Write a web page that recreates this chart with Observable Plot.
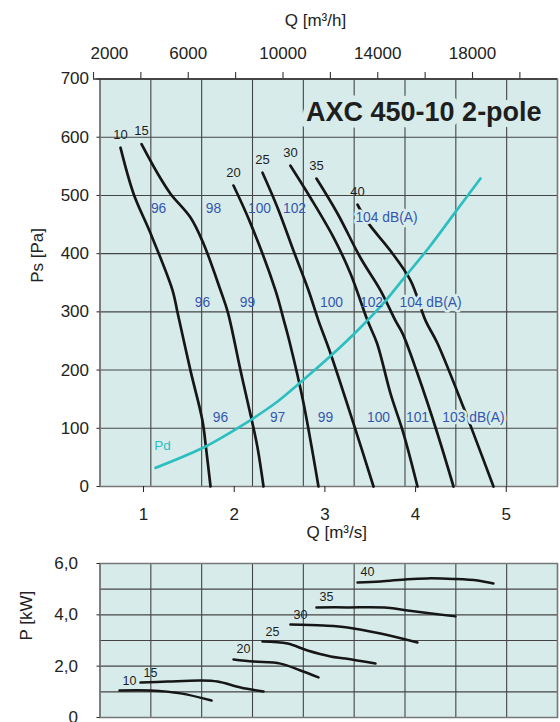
<!DOCTYPE html>
<html><head><meta charset="utf-8">
<script src="https://cdn.jsdelivr.net/npm/d3@7"></script>
<script src="https://cdn.jsdelivr.net/npm/@observablehq/plot@0.6"></script>
<style>
body{margin:0;background:#fff;font-family:"Liberation Sans",Arial,sans-serif;}
#wrap{position:relative;width:560px;height:722px;overflow:hidden;}
#wrap svg{position:absolute;left:0;}
</style></head><body><div id="wrap"></div>
<script>
// ---- data ----
const speeds = [10, 15, 20, 25, 30, 35, 40];
// static pressure curves: [Q m3/s, Ps Pa]
const fanCurve10 = [[0.746,582],[0.890,503],[1.077,435],[1.320,337],[1.375,299],[1.518,199],[1.650,113],[1.690,65],[1.739,0]];
const fanCurve15 = [[0.978,588],[1.154,538],[1.297,503],[1.518,462],[1.662,417],[1.849,337],[1.930,299],[2.070,199],[2.195,113],[2.257,67],[2.323,0]];
const fanCurve20 = [[1.992,517],[2.180,452],[2.455,337],[2.548,285],[2.614,246],[2.758,148],[2.929,0]];
const fanCurve25 = [[2.312,539],[2.478,479],[2.654,405],[2.819,337],[2.929,285],[3.050,234],[3.316,108],[3.536,0]];
const fanCurve30 = [[2.620,551],[2.841,496],[3.095,428],[3.282,366],[3.470,285],[3.575,246],[3.723,160],[3.867,91],[4.021,0]];
const fanCurve35 = [[2.907,529],[3.139,469],[3.392,393],[3.613,337],[3.778,285],[3.856,263],[4.021,194],[4.241,91],[4.418,0]];
const fanCurve40 = [[3.360,484],[3.481,452],[3.723,405],[3.944,354],[4.110,285],[4.241,246],[4.528,136],[4.605,105],[4.859,0]];
// dynamic pressure curve
const pdCurve = [[1.132,32],[1.662,67],[1.992,96],[2.180,114],[2.478,146],[2.709,176],[3.062,224],[3.360,268],[3.647,315],[3.867,357],[4.165,414],[4.418,467],[4.716,529]];
const pdLabel = [{q: 1.21, v: 70, t: "Pd"}];
// sound level labels
const dbText = ["96","98","100","102","104 dB(A)","96","99","100","102","104 dB(A)","96","97","99","100","101","103 dB(A)"];
const dbQ = [1.166,1.772,2.279,2.665,3.679,1.650,2.147,3.073,3.514,4.165,1.849,2.478,3.007,3.591,4.021,4.638];
const dbPs = [478,478,478,478,462,316,316,316,316,316,119,119,119,119,119,119];
// power curves: [Q m3/s, P kW]
const power10 = [[0.735,1.05],[1.077,1.05],[1.408,0.94],[1.750,0.66]];
const power15 = [[0.967,1.36],[1.265,1.40],[1.628,1.44],[1.816,1.40],[2.070,1.17],[2.323,1.01]];
const power20 = [[1.992,2.26],[2.213,2.18],[2.510,2.10],[2.731,1.83],[2.929,1.56]];
const power25 = [[2.312,2.96],[2.588,2.88],[2.809,2.61],[3.062,2.38],[3.227,2.30],[3.558,2.10]];
const power30 = [[2.620,3.62],[2.984,3.58],[3.249,3.51],[3.613,3.27],[4.021,2.92]];
const power35 = [[2.907,4.29],[3.249,4.29],[3.690,4.28],[3.911,4.17],[4.440,3.94]];
const power40 = [[3.360,5.26],[3.613,5.30],[3.911,5.39],[4.131,5.42],[4.418,5.40],[4.683,5.34],[4.859,5.22]];
// axes
const qTicks = [1, 2, 3, 4, 5];
const psTicks = [0, 100, 200, 300, 400, 500, 600, 700];
const pTicks = [0, 2, 4, 6];
const m3hTicks = [2000, 4000, 6000, 8000, 10000, 12000, 14000, 16000, 18000, 20000];
const m3hLabels = [2000, 6000, 10000, 14000, 18000];
const title = "AXC 450-10 2-pole";

// ---- build ----
const bg = "#d7ecea";
const ink = "#161616";
const blue = "#3556b0";
const cyan = "#2dbec0";
const gridC = "#444";
const qMin = 0.52, qMax = 5.565;
const gridQ = d3.range(10).map(i => qMin + i * (qMax - qMin) / 9);
const fanCurves = [fanCurve10, fanCurve15, fanCurve20, fanCurve25, fanCurve30, fanCurve35, fanCurve40];
const powerCurves = [power10, power15, power20, power25, power30, power35, power40];
const rows = (arrs) => arrs.flatMap((a, i) => a.map(([q, v]) => ({q, v, s: speeds[i]})));
const fanRows = rows(fanCurves);
const powRows = rows(powerCurves);
const fanStarts = fanCurves.map((a, i) => ({q: a[0][0], v: a[0][1], s: String(speeds[i])}));
const powStarts = powerCurves.map((a, i) => ({q: a[0][0], v: a[0][1], s: String(speeds[i])}));
const pdRows = pdCurve.map(([q, v]) => ({q, v}));
const dbRows = dbText.map((t, i) => ({t, q: dbQ[i], v: dbPs[i]}));
const font = "'Liberation Sans', Arial, sans-serif";
const wrap = document.getElementById("wrap");
const plain = d => String(d);

// main chart
const mainChart = Plot.plot({
  width: 560, height: 550,
  marginLeft: 99.5, marginRight: 3, marginTop: 78.5, marginBottom: 64,
  style: {fontFamily: font, fontSize: "17px", background: "none", color: "#222", overflow: "visible"},
  x: {domain: [qMin, qMax]},
  y: {domain: [0, 700]},
  marks: [
    Plot.frame({fill: bg, stroke: null}),
    Plot.ruleX(gridQ, {stroke: gridC, strokeWidth: 1.1}),
    Plot.ruleY(psTicks, {stroke: gridC, strokeWidth: 1.1}),
    Plot.frame({stroke: "#777", strokeWidth: 1.5}),
    Plot.axisY({ticks: psTicks, tickSize: 3, tickPadding: 8, label: null, fontSize: 17, tickFormat: plain}),
    Plot.axisX({ticks: qTicks, tickSize: 6, tickPadding: 15, label: null, fontSize: 17, tickFormat: plain}),
    Plot.text(["Ps [Pa]"], {frameAnchor: "left", dx: -62.5, rotate: -90, fontSize: 17, fill: "#222"}),
    Plot.text([{q: 3.13, t: "Q [m³/s]"}], {x: "q", text: "t", frameAnchor: "bottom", dy: 51, fontSize: 17, fill: "#222"}),
    Plot.text([{q: 5.39, v: 643, t: title}], {x: "q", y: "v", text: "t", textAnchor: "end", fontSize: 27, fontWeight: "bold", fill: "#1e1e1e", stroke: bg, strokeWidth: 13, paintOrder: "stroke"}),
    Plot.line(fanRows, {x: "q", y: "v", z: "s", stroke: ink, strokeWidth: 2.7, curve: "catmull-rom"}),
    Plot.line(pdRows, {x: "q", y: "v", stroke: cyan, strokeWidth: 2.7, curve: "catmull-rom"}),
    Plot.text(fanStarts, {x: "q", y: "v", text: "s", dy: -13, fontSize: 13, fill: "#1e1e1e"}),
    Plot.text(pdLabel, {x: "q", y: "v", text: "t", fontSize: 13.5, fill: cyan}),
    Plot.text(dbRows.filter(d => !d.t.includes("dB")), {x: "q", y: "v", text: "t", fontSize: 13.8, fill: blue}),
    Plot.text(dbRows.filter(d => d.t.includes("dB")), {x: "q", y: "v", text: "t", fontSize: 13.8, fill: blue, stroke: bg, strokeWidth: 5, paintOrder: "stroke"})
  ]
});
mainChart.style.top = "0px";
wrap.appendChild(mainChart);

// top axis in m3/h
const topAxis = Plot.plot({
  width: 560, height: 80,
  marginLeft: 93, marginRight: 3, marginTop: 72, marginBottom: 1.5,
  style: {fontFamily: font, fontSize: "17px", background: "none", color: "#222", overflow: "visible"},
  x: {domain: [2000, 21588], axis: null},
  y: {domain: [0, 1], axis: null},
  marks: [
    Plot.ruleX(m3hTicks, {x: d => d, y1: 0, y2: 1, stroke: "#333", strokeWidth: 1.1}),
    Plot.ruleY([0], {stroke: "#333", strokeWidth: 1.3}),
    Plot.text(m3hLabels.slice(1), {x: d => d, y: 1, text: plain, dy: -19, fontSize: 17, fill: "#222"}),
    Plot.text(m3hLabels.slice(0, 1), {x: d => d, y: 1, text: plain, dy: -19, dx: -3, textAnchor: "start", fontSize: 17, fill: "#222"}),
    Plot.text([{h: 11370, t: "Q [m³/h]"}], {x: "h", text: "t", y: 1, dy: -52, fontSize: 17, fill: "#222"})
  ]
});
topAxis.style.top = "0px";
wrap.appendChild(topAxis);

// power chart
const powChart = Plot.plot({
  width: 560, height: 177,
  marginLeft: 99.5, marginRight: 3, marginTop: 18, marginBottom: 5,
  style: {fontFamily: font, fontSize: "17px", background: "none", color: "#222", overflow: "visible"},
  x: {domain: [qMin, qMax], axis: null},
  y: {domain: [0, 6]},
  marks: [
    Plot.frame({fill: bg, stroke: null}),
    Plot.ruleX(gridQ, {stroke: gridC, strokeWidth: 1.1}),
    Plot.ruleY(d3.range(0, 7), {stroke: gridC, strokeWidth: 1.1}),
    Plot.frame({stroke: "#777", strokeWidth: 1.5}),
    Plot.axisY({ticks: pTicks, tickSize: 3, tickPadding: 19, label: null, fontSize: 17,
      tickFormat: d => d === 0 ? "0" : d.toFixed(1).replace(".", ",")}),
    Plot.text(["P [kW]"], {frameAnchor: "left", dx: -73.5, rotate: -90, fontSize: 17, fill: "#222"}),
    Plot.line(powRows, {x: "q", y: "v", z: "s", stroke: ink, strokeWidth: 2.5, curve: "catmull-rom"}),
    Plot.text(powStarts, {x: "q", y: "v", text: "s", dx: 3, dy: -10, textAnchor: "start", fontSize: 12.5, fill: "#1e1e1e"})
  ]
});
powChart.style.top = "545px";
wrap.appendChild(powChart);
</script></body></html>
